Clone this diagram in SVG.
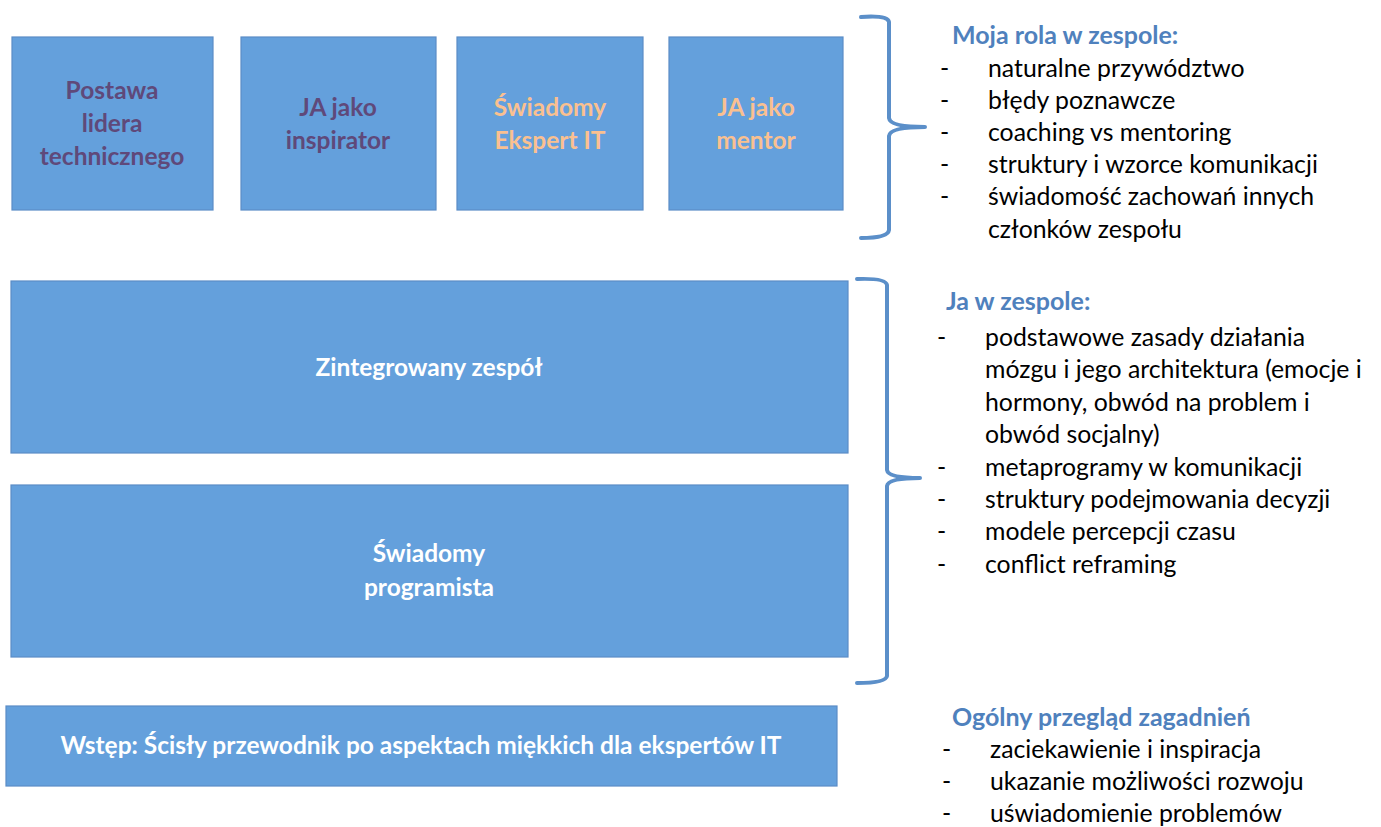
<svg xmlns="http://www.w3.org/2000/svg" width="1381" height="827" viewBox="0 0 1381 827">
<style>
.box{fill:#64a0dc;stroke:#5a8cc6;stroke-width:1.2}
.bt{font-family:Lato,"Liberation Sans",sans-serif;font-weight:bold;font-size:24.5px;text-anchor:middle}
.pur{fill:#5f497a}
.org{fill:#fac090}
.wht{fill:#ffffff}
.hd{font-family:Lato,"Liberation Sans",sans-serif;font-weight:bold;font-size:25px;fill:#4f81bd}
.it{font-family:Lato,"Liberation Sans",sans-serif;font-size:24.8px;fill:#000000}
.brace{fill:none;stroke:#5b8fc9;stroke-width:4;stroke-linecap:round;stroke-linejoin:round}
</style>
<rect width="1381" height="827" fill="#ffffff"/>
<g id="node-postawa">
<rect class="box" x="12" y="37" width="201" height="173"/>
<text class="bt pur" x="112" y="99">Postawa</text>
<text class="bt pur" x="112" y="132">lidera</text>
<text class="bt pur" x="112" y="165">technicznego</text>
</g>
<g id="node-inspirator">
<rect class="box" x="241" y="37" width="195" height="173"/>
<text class="bt pur" x="338" y="116">JA jako</text>
<text class="bt pur" x="338" y="149">inspirator</text>
</g>
<g id="node-ekspert">
<rect class="box" x="457" y="37" width="186" height="173"/>
<text class="bt org" x="550" y="116">Świadomy</text>
<text class="bt org" x="550" y="149">Ekspert IT</text>
</g>
<g id="node-mentor">
<rect class="box" x="669" y="37" width="174" height="173"/>
<text class="bt org" x="756" y="116">JA jako</text>
<text class="bt org" x="756" y="149">mentor</text>
</g>
<g id="node-zespol">
<rect class="box" x="11" y="281" width="837" height="172"/>
<text class="bt wht" x="429" y="376">Zintegrowany zespół</text>
</g>
<g id="node-programista">
<rect class="box" x="11" y="485" width="837" height="172"/>
<text class="bt wht" x="429" y="562">Świadomy</text>
<text class="bt wht" x="429" y="596">programista</text>
</g>
<g id="node-wstep">
<rect class="box" x="6" y="706" width="831" height="80"/>
<text class="bt wht" x="421" y="754">Wstęp: Ścisły przewodnik po aspektach miękkich dla ekspertów IT</text>
</g>
<g id="connectors">
<path class="brace" d="M861 17 Q888 15 889 22 L889 118 Q890 127 925 127 Q890 127 889 136 L889 230 Q888 238 861 238"/>
<path class="brace" d="M857 279 Q886 278 887 285 L887 470 Q888 478 920 478 Q888 478 887 486 L887 676 Q886 683 857 683"/>
</g>
<g id="text-rola">
<text class="hd" x="952" y="44">Moja rola w zespole:</text>
<g class="it">
<text x="940" y="77">-</text><text x="988" y="77">naturalne przywództwo</text>
<text x="940" y="109">-</text><text x="988" y="109">błędy poznawcze</text>
<text x="940" y="141">-</text><text x="988" y="141">coaching vs mentoring</text>
<text x="940" y="173">-</text><text x="988" y="173">struktury i wzorce komunikacji</text>
<text x="940" y="205">-</text><text x="988" y="205">świadomość zachowań innych</text>
<text x="988" y="238">członków zespołu</text>
</g>
</g>
<g id="text-ja">
<text class="hd" x="946" y="310">Ja w zespole:</text>
<g class="it">
<text x="937" y="346">-</text><text x="985" y="346">podstawowe zasady działania</text>
<text x="985" y="378">mózgu i jego architektura (emocje i</text>
<text x="985" y="411">hormony, obwód na problem i</text>
<text x="985" y="443">obwód socjalny)</text>
<text x="937" y="476">-</text><text x="985" y="476">metaprogramy w komunikacji</text>
<text x="937" y="508">-</text><text x="985" y="508">struktury podejmowania decyzji</text>
<text x="937" y="540">-</text><text x="985" y="540">modele percepcji czasu</text>
<text x="937" y="573">-</text><text x="985" y="573">conflict reframing</text>
</g>
</g>
<g id="text-ogolny">
<text class="hd" x="952" y="726">Ogólny przegląd zagadnień</text>
<g class="it">
<text x="942" y="758">-</text><text x="990" y="758">zaciekawienie i inspiracja</text>
<text x="942" y="790">-</text><text x="990" y="790">ukazanie możliwości rozwoju</text>
<text x="942" y="822">-</text><text x="990" y="822">uświadomienie problemów</text>
</g>
</g>
</svg>
